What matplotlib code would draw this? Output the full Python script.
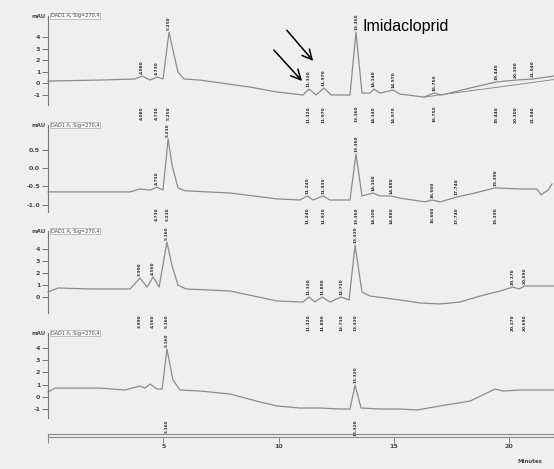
import numpy as np
import matplotlib
matplotlib.use("Agg")
import matplotlib.pyplot as plt
from matplotlib.transforms import blended_transform_factory, offset_copy

# ---------------- data (time in minutes, signal in mAU) ----------------
t1 = [0, 2.26, 3.77, 4.08, 4.43, 4.73, 4.99, 5.25, 5.47, 5.64, 5.90, 6.59, 8.76, 9.93,
      11.06, 11.32, 11.63, 11.97, 12.28, 13.10, 13.36, 13.62, 13.97, 14.14, 14.40, 14.97,
      15.27, 16.31, 16.75, 17.09, 18.31, 19.44, 20.30, 21.04, 21.95]
v1 = [0.17, 0.26, 0.35, 0.61, 0.26, 0.52, 0.35, 4.43, 2.43, 0.96, 0.35, 0.26, -0.35, -0.78,
      -1.04, -0.52, -1.04, -0.43, -1.04, -1.04, 4.43, -0.87, -0.87, -0.52, -0.87, -0.61,
      -0.96, -1.22, -0.87, -1.04, -0.43, 0.09, 0.26, 0.35, 0.61]
base1_t = [16.31, 21.95]
base1_v = [-1.22, 0.30]
peaks1 = [4.08, 4.73, 5.25, 11.32, 11.97, 13.36, 14.14, 14.97, 16.75, 19.44, 20.30, 21.04]

t2 = [0, 3.56, 3.99, 4.43, 4.73, 4.99, 5.21, 5.38, 5.64, 5.94, 7.90, 9.93, 10.93, 11.24,
      11.50, 11.93, 12.23, 13.10, 13.36, 13.62, 14.10, 14.40, 14.88, 15.27, 16.36, 16.66,
      17.01, 17.74, 18.52, 19.39, 20.48, 21.21, 21.39, 21.69, 21.87]
v2 = [-0.65, -0.65, -0.57, -0.60, -0.52, -0.60, 0.79, 0.08, -0.54, -0.62, -0.68, -0.84, -0.87, -0.76,
      -0.87, -0.76, -0.87, -0.87, 0.38, -0.76, -0.68, -0.76, -0.76, -0.82, -0.92, -0.87,
      -0.92, -0.79, -0.68, -0.54, -0.57, -0.57, -0.73, -0.60, -0.43]
peaks2 = [4.73, 5.21, 11.24, 11.93, 13.36, 14.10, 14.88, 16.66, 17.74, 19.39]

t3 = [0, 0.43, 1.82, 3.56, 3.99, 4.30, 4.56, 4.82, 5.16, 5.38, 5.64, 5.99, 7.90, 9.93,
      11.06, 11.32, 11.58, 11.89, 12.23, 12.71, 13.06, 13.32, 13.62, 13.97, 15.27, 16.14,
      17.01, 17.87, 18.74, 19.61, 20.17, 20.43, 20.69, 21.95]
v3 = [0.42, 0.75, 0.67, 0.67, 1.58, 0.83, 1.67, 0.83, 4.58, 2.60, 1.0, 0.67, 0.5, -0.33,
      -0.42, 0.0, -0.42, 0.0, -0.42, 0.0, -0.25, 4.33, 0.42, 0.08, -0.25, -0.5,
      -0.58, -0.42, 0.08, 0.5, 0.83, 0.67, 0.92, 0.92]
peaks3 = [3.99, 4.56, 5.16, 11.32, 11.89, 12.71, 13.32, 20.17, 20.69]

t4 = [0, 0.30, 2.26, 3.34, 3.99, 4.21, 4.43, 4.73, 4.95, 5.16, 5.42, 5.73, 6.59, 7.90,
      9.20, 9.93, 10.93, 11.80, 12.67, 13.10, 13.32, 13.58, 14.40, 15.27, 16.01, 17.01,
      18.31, 19.39, 19.74, 20.48, 21.95]
v4 = [0.41, 0.73, 0.73, 0.57, 0.90, 0.73, 1.06, 0.65, 0.65, 3.92, 1.39, 0.57, 0.49, 0.24,
      -0.41, -0.73, -0.90, -0.90, -0.98, -0.98, 0.98, -0.90, -0.98, -0.98, -1.06, -0.73,
      -0.33, 0.65, 0.49, 0.57, 0.57]
peaks4 = [5.16, 13.32]

yticks1 = [-1, 0, 1, 2, 3, 4]
yticks2 = [-1.0, -0.5, 0.0, 0.5]
yticks3 = [0, 1, 2, 3, 4]
yticks4 = [-1, 0, 1, 2, 3, 4]
xticks = [0, 5, 10, 15, 20]
xticklabels = ['', '5', '10', '15', '20']
signal_title = "DAD1 A, Sig=270,4"
compound = "Imidacloprid"

# ---------------- layout ----------------
W, H = 554, 469
fig = plt.figure(figsize=(W / 100, H / 100), dpi=100)
fig.patch.set_facecolor('#efefef')

X0, X1 = 48, 554
TMAX = 21.95
TRACE = '#8c8c8c'
TXT = '#4a4a4a'
PKTXT = '#2e2e2e'
LBL = 3.1


def rect(x0, y0, x1, y1):
    return [x0 / W, 1 - y1 / H, (x1 - x0) / W, (y1 - y0) / H]


panels = [
    dict(r=(16, 105), ylim=(-1.91, 5.83), t=t1, v=v1, peaks=peaks1, yt=yticks1, fmt='{:g}', shift=-1),
    dict(r=(125, 212), ylim=(-1.196, 1.168), t=t2, v=v2, peaks=peaks2, yt=yticks2, fmt='{:.1f}', shift=5),
    dict(r=(231, 313), ylim=(-1.333, 5.5), t=t3, v=v3, peaks=peaks3, yt=yticks3, fmt='{:g}', shift=-1),
    dict(r=(333, 418), ylim=(-1.714, 5.224), t=t4, v=v4, peaks=peaks4, yt=yticks4, fmt='{:g}', shift=-1),
]

axes = []
for p in panels:
    ax = fig.add_axes(rect(X0, p['r'][0], X1, p['r'][1]))
    ax.set_facecolor('none')
    ax.set_xlim(0, TMAX)
    ax.set_ylim(*p['ylim'])
    for s in ['top', 'right', 'bottom']:
        ax.spines[s].set_visible(False)
    ax.spines['left'].set_color('#777777')
    ax.spines['left'].set_linewidth(0.8)
    ax.set_xticks([])
    ax.set_yticks(p['yt'])
    ax.set_yticklabels([p['fmt'].format(y) for y in p['yt']], fontweight='bold')
    ax.tick_params(axis='y', length=4, width=0.7, color='#777777', labelsize=4.6,
                   labelcolor=TXT, pad=1.5)
    ax.plot(p['t'], p['v'], color=TRACE, lw=0.9, clip_on=False)
    # peak retention-time labels (above apex and a row below the panel)
    below = offset_copy(blended_transform_factory(ax.transData, ax.transAxes),
                        fig=fig, x=0, y=p['shift'], units='dots')
    for pk in p['peaks']:
        yv = np.interp(pk, p['t'], p['v'])
        ax.annotate(f"{pk:.3f}", (pk, yv), xytext=(0, 1.5), textcoords='offset points',
                    rotation=90, ha='center', va='bottom', fontsize=LBL,
                    fontweight='bold', color=PKTXT, annotation_clip=False)
        ax.text(pk, 0, f"{pk:.3f}", transform=below, rotation=90, ha='center',
                va='top', fontsize=LBL, fontweight='bold', color=PKTXT, clip_on=False)
    # header: unit + signal name
    ax.text(-0.004, 1.0, 'mAU', transform=ax.transAxes, ha='right', va='center',
            fontsize=4, fontweight='bold', color=TXT)
    ax.text(0.006, 1.0, signal_title, transform=ax.transAxes, ha='left', va='center',
            fontsize=3.6, color=TXT,
            bbox=dict(boxstyle='square,pad=0.15', fc='#f7f7f7', ec='#999999', lw=0.4))
    axes.append(ax)

# integration baseline near the end of the first trace
axes[0].plot(base1_t, base1_v, color=TRACE, lw=0.7, clip_on=False)

# bottom time axis (box)
axb = fig.add_axes(rect(X0, 434, X1, 437))
axb.set_facecolor('none')
axb.set_xlim(0, TMAX)
axb.set_yticks([])
for s in axb.spines.values():
    s.set_color('#888888')
    s.set_linewidth(0.8)
axb.set_xticks(xticks)
axb.set_xticklabels(xticklabels, fontweight='bold')
axb.tick_params(axis='x', length=4, width=0.7, color='#888888', labelsize=4.6,
                labelcolor=TXT, pad=1)
fig.text(530 / W, 1 - 461 / H, 'Minutes', ha='center', va='center', fontsize=4,
         fontweight='bold', color=TXT)

# arrows and annotation on the first panel
ax1 = axes[0]
ax1.annotate('', xy=(11.10, 0.0), xytext=(9.72, 3.04),
             arrowprops=dict(arrowstyle='->,head_length=0.7,head_width=0.35', lw=1.1,
                             color='black'), annotation_clip=False)
ax1.annotate('', xy=(11.58, 1.74), xytext=(10.28, 4.78),
             arrowprops=dict(arrowstyle='->,head_length=0.7,head_width=0.35', lw=1.1,
                             color='black'), annotation_clip=False)
fig.text(363 / W, 1 - 27 / H, compound, ha='left', va='center', fontsize=11.5,
         family='Liberation Sans', color='black')

fig.savefig('out.png', dpi=100, facecolor=fig.get_facecolor())
